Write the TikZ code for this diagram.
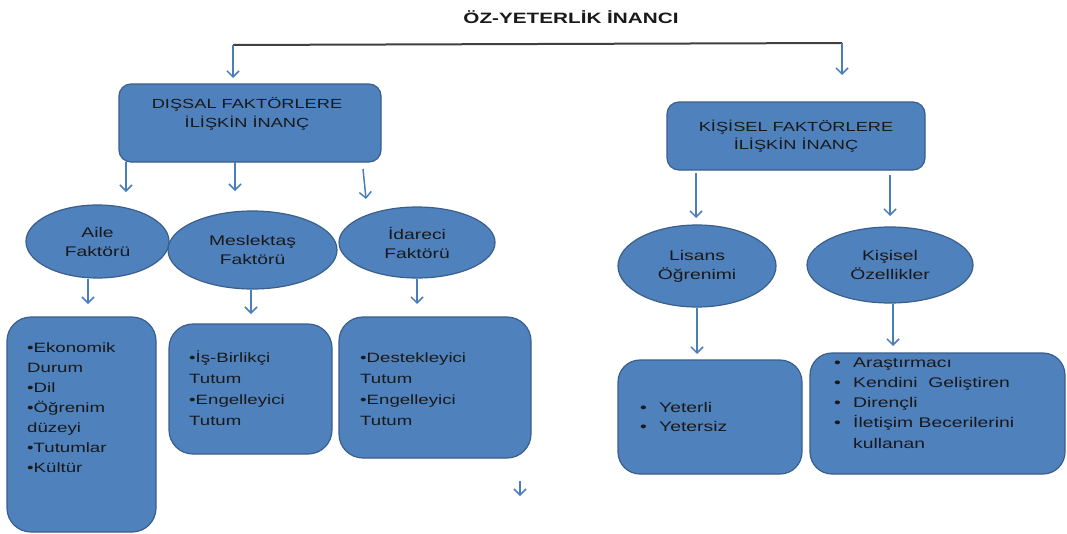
\documentclass[tikz,border=0pt]{standalone}
\usepackage{fontspec}
\setmainfont{Liberation Sans}[FakeStretch=1.38]
\usetikzlibrary{arrows.meta,shapes.geometric}
\definecolor{boxfill}{HTML}{4F81BD}
\definecolor{boxline}{HTML}{3A5F8B}
\definecolor{arrblue}{HTML}{4A7EBB}
\begin{document}
\begin{tikzpicture}[x=1pt,y=-1pt,
 every node/.style={text=black!90},
 hdrbox/.style={draw=boxline,fill=boxfill,line width=1.2pt,rounded corners=12pt,inner sep=0pt},
 listbox/.style={draw=boxline,fill=boxfill,line width=1.2pt,rounded corners=24pt,inner sep=0pt},
 oval/.style={ellipse,draw=boxline,fill=boxfill,line width=1.2pt,inner sep=0pt,align=center,font=\fontsize{14}{19}\selectfont},
 hdrtxt/.style={align=center,inner sep=0pt,font=\fontsize{13.2}{18.5}\selectfont},
 listtxt/.style={align=left,inner sep=0pt,anchor=north west},
 arr/.style={draw=arrblue,line width=1.5pt,-{Straight Barb[length=6pt,width=12pt]}},
 bracket/.style={draw=black!75,line width=2pt}]
\useasboundingbox (0,0) rectangle (1067,533);
\fill[white] (0,0) rectangle (1067,533);

% title
\node[font=\bfseries\fontsize{15}{18}\selectfont] (title) at (571,17) {ÖZ-YETERLİK İNANCI};

% header boxes
\node[hdrbox,minimum width=262pt,minimum height=78pt] (dis) at (250,123) {};
\node[hdrtxt] (distxt) at (247,114) {DIŞSAL FAKTÖRLERE\\İLİŞKİN İNANÇ};
\node[hdrbox,hdrtxt,minimum width=258pt,minimum height=68pt] (kis) at (796,136) {KİŞİSEL FAKTÖRLERE\\İLİŞKİN İNANÇ};

% ellipses
\node[oval,minimum width=143pt,minimum height=73pt] (aile) at (97.5,241.5) {Aile\\Faktörü};
\node[oval,minimum width=169pt,minimum height=78pt] (mes) at (252.5,250) {Meslektaş\\Faktörü};
\node[oval,minimum width=156pt,minimum height=71pt] (ida) at (417,242.5) {İdareci\\Faktörü};
\node[oval,minimum width=158pt,minimum height=82pt] (lis) at (697,266) {Lisans\\Öğrenimi};
\node[oval,minimum width=166pt,minimum height=76pt] (koz) at (890,265) {Kişisel\\Özellikler};

% list boxes
\node[listbox,minimum width=149pt,minimum height=215pt] (aileb) at (81.5,424.5) {};
\node[listbox,minimum width=163pt,minimum height=130pt] (mesb) at (250.5,389) {};
\node[listbox,minimum width=192pt,minimum height=141pt] (idab) at (435,387.5) {};
\node[listbox,rounded corners=22pt,minimum width=184pt,minimum height=114pt] (yetb) at (710,417) {};
\node[listbox,rounded corners=22pt,minimum width=255pt,minimum height=121pt] (kozb) at (937.5,413.5) {};

% list texts
\node[listtxt,font=\fontsize{13.5}{20}\selectfont] (ailet) at (27,339)
 {\rule{0pt}{13pt}•Ekonomik\\Durum\\•Dil\\•Öğrenim\\düzeyi\\•Tutumlar\\•Kültür};
\node[listtxt,font=\fontsize{13.5}{21}\selectfont] (mest) at (189,349)
 {\rule{0pt}{13pt}•İş-Birlikçi\\Tutum\\•Engelleyici\\Tutum};
\node[listtxt,font=\fontsize{13.5}{21}\selectfont] (idat) at (360,349)
 {\rule{0pt}{13pt}•Destekleyici\\Tutum\\•Engelleyici\\Tutum};
\node[listtxt,font=\fontsize{14}{19}\selectfont] (yett) at (640,399)
 {\rule{0pt}{13pt}\makebox[19pt][l]{•}Yeterli\\\makebox[19pt][l]{•}Yetersiz};
\node[listtxt,font=\fontsize{14}{20.25}\selectfont] (kozt) at (834,354)
 {\rule{0pt}{13pt}\makebox[19pt][l]{•}Araştırmacı\\\makebox[19pt][l]{•}Kendini\ \ Geliştiren\\\makebox[19pt][l]{•}Dirençli\\\makebox[19pt][l]{•}İletişim Becerilerini\\\hspace*{19pt}kullanan};

% connector coordinates
\coordinate (tl) at (233,45);
\coordinate (tr) at (842,43);
\coordinate (tla) at (233,78);
\coordinate (tra) at (842,75);
\coordinate (d1s) at (126,162); \coordinate (d1e) at (126,192);
\coordinate (d2s) at (235,162); \coordinate (d2e) at (235,191);
\coordinate (d3s) at (363,169); \coordinate (d3e) at (366,199);
\coordinate (a1s) at (88,279);  \coordinate (a1e) at (88,304);
\coordinate (m1s) at (251,290); \coordinate (m1e) at (251,314);
\coordinate (i1s) at (417,279); \coordinate (i1e) at (417,304);
\coordinate (k1s) at (696,173); \coordinate (k1e) at (696,218);
\coordinate (k2s) at (890,175); \coordinate (k2e) at (890,216);
\coordinate (l1s) at (697,308); \coordinate (l1e) at (697,354);
\coordinate (o1s) at (893,304); \coordinate (o1e) at (893,346);
\coordinate (sts) at (520,481); \coordinate (ste) at (520,496);

% connectors
\draw[bracket] (tl) -- (tr);
\draw[arr] (tl) -- (tla);
\draw[arr] (tr) -- (tra);
\draw[arr] (d1s) -- (d1e);
\draw[arr] (d2s) -- (d2e);
\draw[arr] (d3s) -- (d3e);
\draw[arr] (a1s) -- (a1e);
\draw[arr] (m1s) -- (m1e);
\draw[arr] (i1s) -- (i1e);
\draw[arr] (k1s) -- (k1e);
\draw[arr] (k2s) -- (k2e);
\draw[arr] (l1s) -- (l1e);
\draw[arr] (o1s) -- (o1e);
\draw[arr] (sts) -- (ste);
\end{tikzpicture}
\end{document}
